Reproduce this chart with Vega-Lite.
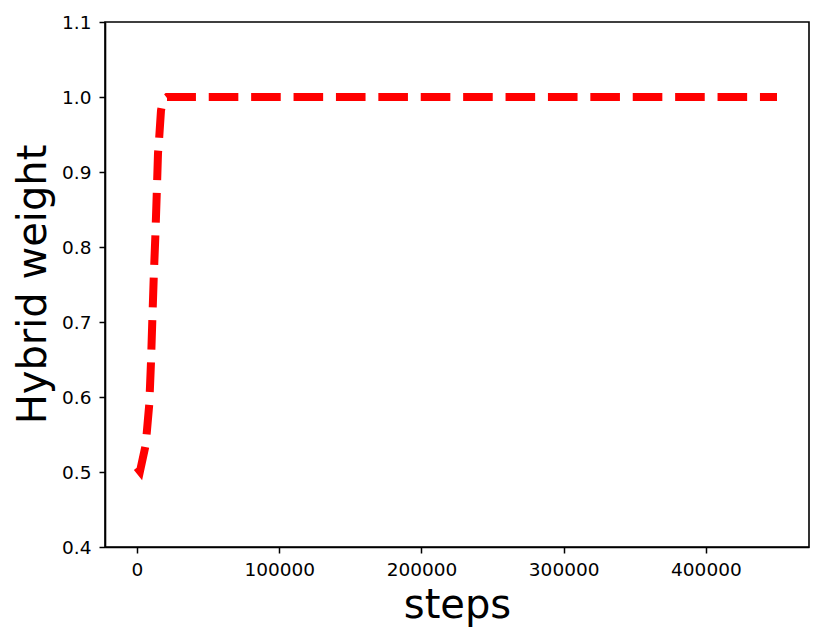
{
  "$schema": "https://vega.github.io/schema/vega-lite/v6.json",
  "width": 704,
  "height": 525,
  "autosize": "none",
  "padding": {"left": 105, "top": 22, "right": 22, "bottom": 93},
  "background": "white",
  "config": {
    "font": "DejaVu Sans",
    "view": {"stroke": "black", "strokeWidth": 1.6},
    "axis": {
      "grid": false,
      "domainColor": "black",
      "domainWidth": 1.6,
      "tickColor": "black",
      "tickWidth": 1.5,
      "tickSize": 6,
      "labelColor": "black",
      "labelFont": "DejaVu Sans",
      "labelFontSize": 18.5,
      "titleColor": "black",
      "titleFont": "DejaVu Sans",
      "titleFontSize": 40,
      "titleFontWeight": "normal"
    }
  },
  "data": {
    "values": [
      {"step": 0, "weight": 0.506},
      {"step": 2100, "weight": 0.501},
      {"step": 6100, "weight": 0.536},
      {"step": 8650, "weight": 0.591},
      {"step": 9850, "weight": 0.647},
      {"step": 10760, "weight": 0.702},
      {"step": 11740, "weight": 0.758},
      {"step": 12870, "weight": 0.813},
      {"step": 13850, "weight": 0.869},
      {"step": 14770, "weight": 0.925},
      {"step": 15470, "weight": 0.942},
      {"step": 16870, "weight": 0.982},
      {"step": 18280, "weight": 0.996},
      {"step": 21100, "weight": 1.0},
      {"step": 100000, "weight": 1.0},
      {"step": 200000, "weight": 1.0},
      {"step": 300000, "weight": 1.0},
      {"step": 400000, "weight": 1.0},
      {"step": 450000, "weight": 1.0}
    ]
  },
  "mark": {
    "type": "line",
    "color": "#ff0000",
    "strokeWidth": 8,
    "strokeDash": [29.6, 12.8],
    "strokeCap": "butt",
    "strokeJoin": "miter",
    "clip": true
  },
  "encoding": {
    "x": {
      "field": "step",
      "type": "quantitative",
      "scale": {"domain": [-22500, 472500], "nice": false, "zero": false},
      "axis": {
        "values": [0, 100000, 200000, 300000, 400000],
        "format": "d",
        "labelPadding": 7,
        "title": "steps",
        "titleX": 352,
        "titleY": 70,
        "titleAlign": "center",
        "titleBaseline": "alphabetic"
      }
    },
    "y": {
      "field": "weight",
      "type": "quantitative",
      "scale": {"domain": [0.4, 1.1], "nice": false, "zero": false},
      "axis": {
        "values": [0.4, 0.5, 0.6, 0.7, 0.8, 0.9, 1.0, 1.1],
        "format": ".1f",
        "labelPadding": 8,
        "title": "Hybrid weight",
        "titleAngle": 270,
        "titleX": -60,
        "titleY": 262,
        "titleAlign": "center",
        "titleBaseline": "alphabetic"
      }
    }
  }
}
